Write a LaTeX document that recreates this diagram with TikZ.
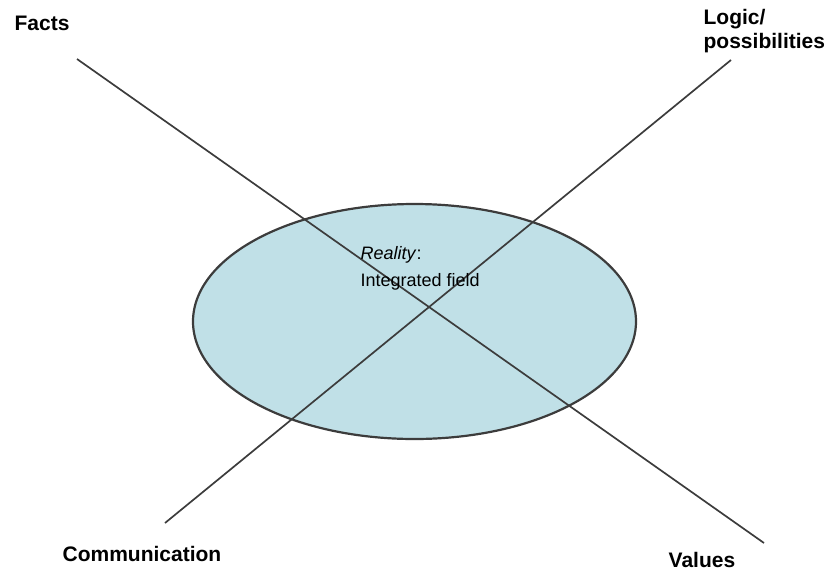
\documentclass[tikz,border=0pt]{standalone}
\usepackage{fontspec}
\setmainfont{Liberation Sans}
\usepackage{xcolor}
\usetikzlibrary{
	positioning,    % posizione relativa dei nodi
	shapes.geometric % per l'ellisse
}
\definecolor{campo}{RGB}{192,224,231}
\definecolor{linea}{RGB}{60,60,60}

\begin{document}
\begin{tikzpicture}[x=1pt, y=-1pt, line width=1.3pt,
	etichetta/.style={font=\bfseries\fontsize{21}{24}\selectfont, inner sep=0pt, align=left, text=black},
	asse/.style={draw=linea, line width=1.7pt}]
	% Area del disegno
	\useasboundingbox (0,0) rectangle (830,571);
	
	% --- Ellisse centrale ---
	\node[ellipse, draw=linea, line width=2.2pt, fill=campo, minimum width=443, minimum height=235, inner sep=0pt] (realta) at (414.5,321.5) {};
	
	% --- Estremi degli assi ---
	\coordinate (fattiA) at (77,59);
	\coordinate (valoriA) at (764,543);
	\coordinate (logicaA) at (731,60);
	\coordinate (comunicA) at (165,523);
	
	% --- Assi ---
	\draw[asse] (fattiA) -- (valoriA);
	\draw[asse] (comunicA) -- (logicaA);
	
	% --- Etichette ---
	\node[etichetta, anchor=west] (fatti) at (14,23) {Facts};
	\node[etichetta, anchor=north west] (logica) at (703,9) {Logic/\\possibilities};
	\node[etichetta, anchor=west] (comunic) at (62,554) {Communication};
	\node[etichetta, anchor=west] (valori) at (668,560) {Values};
	
	% Testo dentro l'ellisse
	\node[anchor=north west, inner sep=0pt, align=left, font=\fontsize{18}{27}\selectfont] (campoint) at (360,246) {\textit{Reality}:\\Integrated field};
\end{tikzpicture}
\end{document}
